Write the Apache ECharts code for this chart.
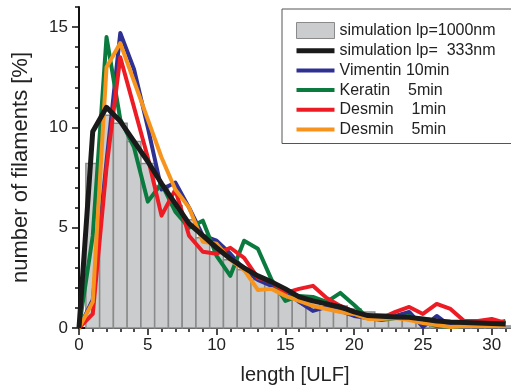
<!DOCTYPE html>
<html>
<head>
<meta charset="utf-8">
<script src="https://cdn.jsdelivr.net/npm/echarts@6/dist/echarts.min.js"></script>
<style>
html,body{margin:0;padding:0;background:#fff;}
#chart{width:511px;height:390px;}
</style>
</head>
<body>
<div id="chart"></div>
<script>
// ---- data ----
const xLine = [0,1,2,3,4,5,6,7,8,9,10,11,12,13,14,15,16,17,18,19,20,21,22,23,24,25,26,27,28,29,30,31];
const xBars = [1,2,3,4,5,6,7,8,9,10,11,12,13,14,15,16,17,18,19,20,21,22,23,24,25,26,27,28,29,30,31];
const sim1000 = [8.2,10.6,10.2,9.3,8.2,7.1,6.1,5.4,4.5,3.8,3.4,2.9,2.4,2.2,1.7,1.4,1.3,1.2,1.1,0.95,0.8,0.7,0.6,0.55,0.5,0.4,0.35,0.3,0.2,0.15,0.1];
const sim333 = [0,9.8,11.0,10.3,9.3,8.3,7.2,6.2,5.2,4.6,4.0,3.45,3.0,2.6,2.3,1.95,1.55,1.35,1.2,1.05,0.8,0.62,0.58,0.55,0.53,0.45,0.35,0.3,0.28,0.25,0.22,0.2];
const vimentin10 = [0,1.4,8.3,14.7,12.9,10.0,6.9,7.25,6.0,4.6,4.35,3.7,2.9,2.4,2.1,1.9,1.3,0.85,1.05,0.85,0.6,0.5,0.45,0.6,0.8,0.05,0.6,0.1,0.1,0.1,0.1,0.15];
const keratin5 = [0,4.6,14.5,10.4,9.0,6.3,7.2,5.8,5.0,5.35,3.6,2.6,4.35,3.95,2.4,1.35,1.6,1.55,1.3,1.75,1.15,0.5,0.4,0.5,0.6,0.3,0.1,0.05,0.1,0.2,0.2,0.35];
const desmin1 = [0,0.7,8.0,13.5,11.0,8.5,5.6,6.9,4.6,3.8,3.7,4.0,3.5,2.5,2.3,1.75,1.95,2.1,1.5,1.1,0.8,0.6,0.5,0.8,1.05,0.7,1.2,0.95,0.35,0.35,0.45,0.25];
const desmin5 = [0,1.3,13.0,14.2,12.3,10.4,8.5,6.9,6.0,4.3,4.2,3.4,2.9,1.9,1.95,1.6,1.35,1.1,0.95,0.8,0.7,0.45,0.45,0.5,0.4,0.25,0.15,0.05,0.1,0.1,0.1,0.1];
const xMajorTicks = [0,5,10,15,20,25,30];
const xMinorTicks = [0,1,2,3,4,5,6,7,8,9,10,11,12,13,14,15,16,17,18,19,20,21,22,23,24,25,26,27,28,29,30,31];
const yMajorTicks = [0,5,10,15];
const yMinorTicks = [0,1,2,3,4,5,6,7,8,9,10,11,12,13,14,15,16];
const names = ['simulation lp=1000nm','simulation lp=  333nm','Vimentin 10min','Keratin    5min','Desmin    1min','Desmin    5min'];

const FONT = 'Liberation Sans, Arial, Helvetica, sans-serif';
const zip = (xs, ys) => xs.map((x, i) => [x, ys[i]]);
const LINE_ICON4 = 'path://M0,0M0,6L38,6L38,10L0,10ZM38,16';
const LINE_ICON5 = 'path://M0,0M0,5.5L38,5.5L38,10.5L0,10.5ZM38,16';

const chart = echarts.init(document.getElementById('chart'), null, {renderer: 'canvas'});

function lineSeries(name, data, color, width, z) {
  return {
    name: name, type: 'line', data: zip(xLine, data),
    symbol: 'none', showSymbol: false, z: z,
    lineStyle: {color: color, width: width, join: 'round'},
    itemStyle: {color: color},
    animation: false
  };
}

const option = {
  animation: false,
  backgroundColor: '#fff',
  grid: {left: 79, right: 0, top: 7, bottom: 61, containLabel: false},
  xAxis: [
    {
      type: 'value', min: 0, max: 31.4, position: 'bottom',
      axisLine: {show: true, lineStyle: {color: '#111', width: 2}},
      axisTick: {show: true, customValues: xMinorTicks, length: 4, lineStyle: {color: '#111', width: 1.5}},
      axisLabel: {customValues: xMajorTicks, fontSize: 17, fontFamily: FONT, color: '#222', margin: 9},
      splitLine: {show: false},
      name: 'length [ULF]', nameLocation: 'middle', nameGap: 37,
      nameTextStyle: {fontSize: 20, fontFamily: FONT, color: '#222'}
    },
    {
      type: 'value', min: 0, max: 31.4, position: 'bottom',
      axisLine: {show: false},
      axisTick: {show: true, customValues: xMajorTicks, length: 7, lineStyle: {color: '#111', width: 1.5}},
      axisLabel: {show: false},
      splitLine: {show: false}
    }
  ],
  yAxis: [
    {
      type: 'value', min: 0, max: 16, position: 'left',
      axisLine: {show: true, lineStyle: {color: '#111', width: 2}},
      axisTick: {show: true, customValues: yMinorTicks, length: 4, lineStyle: {color: '#111', width: 1.5}},
      axisLabel: {customValues: yMajorTicks, fontSize: 17, fontFamily: FONT, color: '#222', margin: 11},
      splitLine: {show: false},
      name: 'number of filaments [%]', nameLocation: 'middle', nameGap: 47,
      nameTextStyle: {fontSize: 22, fontFamily: FONT, color: '#222'}
    },
    {
      type: 'value', min: 0, max: 16, position: 'left',
      axisLine: {show: false},
      axisTick: {show: true, customValues: yMajorTicks, length: 7, lineStyle: {color: '#111', width: 1.5}},
      axisLabel: {show: false},
      splitLine: {show: false}
    }
  ],
  legend: {
    orient: 'vertical', left: 282, top: 9,
    padding: [13, 40, 6, 14],
    itemWidth: 38, itemHeight: 16, itemGap: 3.7,
    borderColor: '#555', borderWidth: 1, borderRadius: 0,
    backgroundColor: '#fff',
    selectedMode: false,
    textStyle: {fontSize: 16, fontFamily: FONT, color: '#222', lineHeight: 16},
    data: [
      {name: names[0], icon: 'rect', itemStyle: {color: '#cbcccd', borderColor: '#8a8a8a', borderWidth: 1}},
      {name: names[1], icon: LINE_ICON5, itemStyle: {color: '#1a1a1a', borderWidth: 0}},
      {name: names[2], icon: LINE_ICON4, itemStyle: {color: '#2e3192', borderWidth: 0}},
      {name: names[3], icon: LINE_ICON4, itemStyle: {color: '#0b7a3e', borderWidth: 0}},
      {name: names[4], icon: LINE_ICON4, itemStyle: {color: '#ed1c24', borderWidth: 0}},
      {name: names[5], icon: LINE_ICON4, itemStyle: {color: '#f7941d', borderWidth: 0}}
    ]
  },
  series: [
    {
      name: names[0], type: 'custom', z: 1,
      data: zip(xBars, sim1000),
      itemStyle: {color: '#cbcccd'},
      renderItem: function (params, api) {
        const x = api.value(0), v = api.value(1);
        const p0 = api.coord([x - 0.5, v]);
        const p1 = api.coord([x + 0.5, 0]);
        return {
          type: 'rect',
          shape: {x: p0[0], y: p0[1], width: p1[0] - p0[0], height: p1[1] - p0[1]},
          style: {fill: '#cbcccd', stroke: '#8a8a8a', lineWidth: 1.5}
        };
      }
    },
    lineSeries(names[2], vimentin10, '#2e3192', 4, 3),
    lineSeries(names[3], keratin5, '#0b7a3e', 4, 4),
    lineSeries(names[4], desmin1, '#ed1c24', 4, 5),
    lineSeries(names[5], desmin5, '#f7941d', 4, 6),
    lineSeries(names[1], sim333, '#1a1a1a', 5, 7)
  ]
};
chart.setOption(option);
</script>
</body>
</html>
